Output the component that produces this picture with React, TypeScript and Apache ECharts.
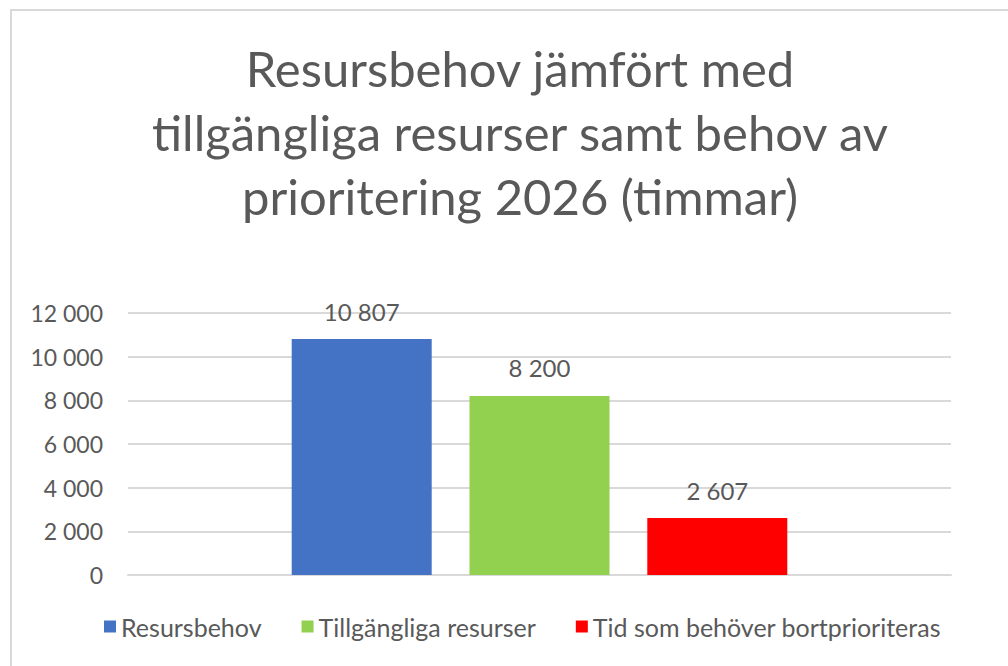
import React, { useEffect, useRef } from "react";
import * as echarts from "echarts";

const categories = ["2026"];
const seriesNames = ["Resursbehov", "Tillgängliga resurser", "Tid som behöver bortprioriteras"];
const seriesValues = [[10807], [8200], [2607]];
const seriesColors = ["#4472C4", "#92D050", "#FF0000"];
const yTicks = { min: 0, max: 12000, interval: 2000 };

const fmt = (v: number) => String(v).replace(/\B(?=(\d{3})+(?!\d))/g, " ");
const FONT = "Lato, 'Noto Sans', sans-serif";

export default function App() {
  const ref = useRef<HTMLDivElement>(null);
  useEffect(() => {
    if (!ref.current) return;
    const chart = echarts.init(ref.current, undefined, { renderer: "svg" });
    chart.setOption({
      animation: false,
      textStyle: { fontFamily: FONT },
      title: {
        text: "Resursbehov jämfört med\ntillgängliga resurser samt behov av\nprioritering 2026 (timmar)",
        left: 515,
        textAlign: "center",
        top: 31,
        textStyle: { fontSize: 49, fontWeight: "normal", color: "#595959", lineHeight: 64, fontFamily: FONT },
      },
      graphic: [
        {
          type: "rect",
          shape: { x: 11, y: 10, width: 1020, height: 680 },
          style: { fill: "none", stroke: "#d9d9d9", lineWidth: 2 },
          silent: true,
        },
      ],
      legend: {
        bottom: 22,
        left: 99,
        itemWidth: 12,
        itemHeight: 12,
        itemGap: 40,
        icon: "rect",
        textStyle: { fontSize: 25, color: "#595959", fontFamily: FONT },
        data: seriesNames,
      },
      grid: { left: 128, right: 57, top: 313, bottom: 91, containLabel: false },
      xAxis: {
        type: "category",
        data: categories,
        axisLine: { lineStyle: { color: "#d9d9d9", width: 2 } },
        axisTick: { show: false },
        axisLabel: { show: false },
      },
      yAxis: {
        type: "value",
        min: yTicks.min,
        max: yTicks.max,
        interval: yTicks.interval,
        axisLine: { show: false },
        axisTick: { show: false },
        splitLine: { lineStyle: { color: "#d9d9d9", width: 2 } },
        axisLabel: {
          fontSize: 23,
          color: "#595959",
          margin: 25,
          fontFamily: FONT,
          formatter: (v: number) => fmt(v),
        },
      },
      series: seriesNames.map((name, i) => ({
        name,
        type: "bar",
        data: seriesValues[i],
        barWidth: 140,
        barGap: "27%",
        itemStyle: { color: seriesColors[i] },
        label: {
          show: true,
          position: "top",
          distance: 16,
          fontSize: 24,
          color: "#595959",
          fontFamily: FONT,
          formatter: (p: any) => fmt(p.value),
        },
      })),
    });
    return () => chart.dispose();
  }, []);
  return (
    <div
      ref={ref}
      style={{ position: "absolute", left: 0, top: 0, width: 1008, height: 666, background: "#fff" }}
    />
  );
}
